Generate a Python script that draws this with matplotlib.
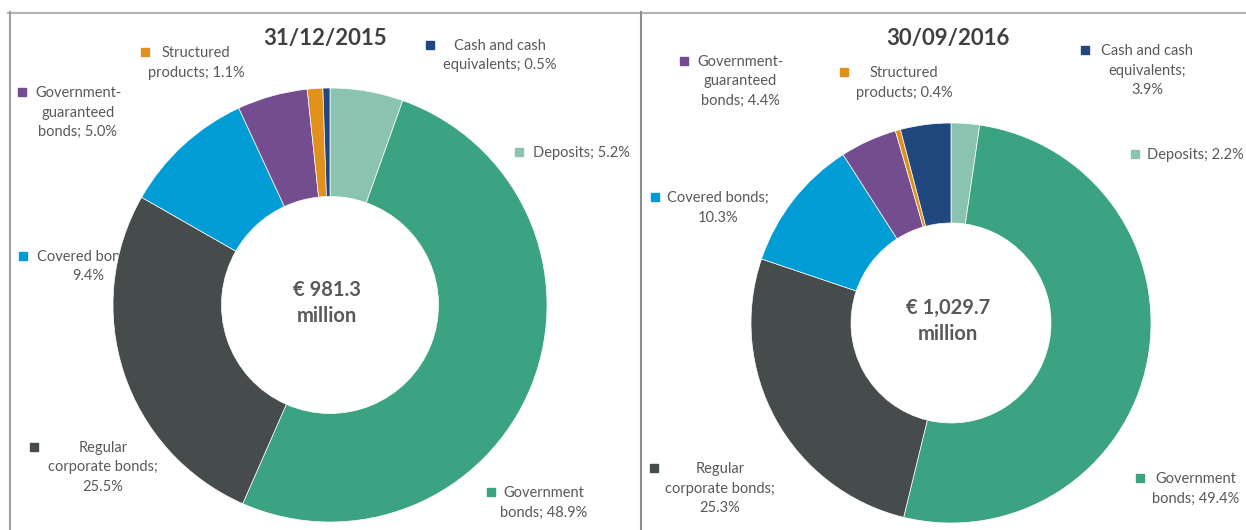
import matplotlib.pyplot as plt
from matplotlib.patches import Rectangle

plt.rcParams['font.family'] = ['Lato', 'DejaVu Sans']

# portfolio composition, clockwise from 12 o'clock
categories = ["Deposits", "Government bonds", "Regular corporate bonds", "Covered bonds",
              "Government-guaranteed bonds", "Structured products", "Cash and cash equivalents"]
colors = ["#8AC4B0", "#3BA282", "#464B4B", "#009CD5", "#744C90", "#E0901B", "#21477F"]

dates = ["31/12/2015", "30/09/2016"]
totals = ["€ 981.3\nmillion", "€ 1,029.7\nmillion"]
values_2015 = [5.2, 48.9, 25.5, 9.4, 5.0, 1.1, 0.5]
values_2016 = [2.2, 49.4, 25.3, 10.3, 4.4, 0.4, 3.9]

# how each label wraps
wrap_2015 = ["Deposits; {}%", "Government\nbonds; {}%", "Regular\ncorporate bonds;\n{}%",
             "Covered bonds;\n{}%", "Government-\nguaranteed\nbonds; {}%",
             "Structured\nproducts; {}%", "Cash and cash\nequivalents; {}%"]
wrap_2016 = ["Deposits; {}%", "Government\nbonds; {}%", "Regular\ncorporate bonds;\n{}%",
             "Covered bonds;\n{}%", "Government-\nguaranteed\nbonds; {}%",
             "Structured\nproducts; {}%", "Cash and cash\nequivalents;\n{}%"]

# layout in pixels: donut centre/radius, title spot, label spots
# label spot = (square x, text x, first line y, alignment)
layout = [
    dict(center=(330, 305), r=217, title=(325, 38),
         labels=[(519, 533, 152, "left"), (491, 544, 492, "center"), (34, 103, 447, "center"),
                 (23, 88, 256, "center"), (22, 78, 92, "center"), (145, 196, 52, "center"),
                 (430, 500, 45, "center")]),
    dict(center=(951, 323), r=200, title=(948, 38),
         labels=[(1135, 1147, 154, "left"), (1140, 1196, 478, "center"), (654, 720, 468, "center"),
                 (655, 718, 197, "center"), (684, 740, 61, "center"), (844, 904, 72, "center"),
                 (1085, 1147, 50, "center")]),
]

fig = plt.figure(figsize=(12.46, 5.30), dpi=100)
ax = fig.add_axes([0, 0, 1, 1])

text_color = "#595959"
for vals, wraps, date, total, lay in zip([values_2015, values_2016], [wrap_2015, wrap_2016],
                                         dates, totals, layout):
    wedges, _ = ax.pie(vals, colors=colors, center=lay["center"], radius=lay["r"],
                       startangle=-90, counterclock=True,
                       wedgeprops=dict(width=lay["r"] * 0.5, edgecolor="white", linewidth=0.5))
    for w in wedges:
        w.set_zorder(3)
    cx, cy = lay["center"]
    ax.text(cx - 3, cy - 2, total, ha="center", va="center", fontsize=14.5, fontweight="bold",
            color=text_color, linespacing=1.4, zorder=4)
    ax.text(*lay["title"], date, ha="center", va="center", fontsize=16, fontweight="bold",
            color="#404040", zorder=4)
    for v, wr, c, (sx, tx, ty, al) in zip(vals, wraps, colors, lay["labels"]):
        ax.add_patch(Rectangle((sx - 4, ty - 4), 8, 8, color=c, zorder=1))
        ax.text(tx, ty - 6, wr.format(f"{v:.1f}"), ha="center" if al == "center" else "left",
                va="top", multialignment="center", fontsize=10.5, color=text_color,
                linespacing=1.5, zorder=1)

# panel frame
ax.plot([8, 1245], [12.5, 12.5], color="#B4B4B4", lw=1.5, zorder=5)
ax.plot([9.5, 9.5], [12, 530], color="#A0A0A0", lw=1.5, zorder=5)
ax.plot([640.5, 640.5], [12, 530], color="#8C8C8C", lw=1.5, zorder=5)

ax.set_xlim(0, 1246)
ax.set_ylim(530, 0)
ax.set_aspect("auto")
ax.axis("off")

fig.savefig("out.png", dpi=100)
